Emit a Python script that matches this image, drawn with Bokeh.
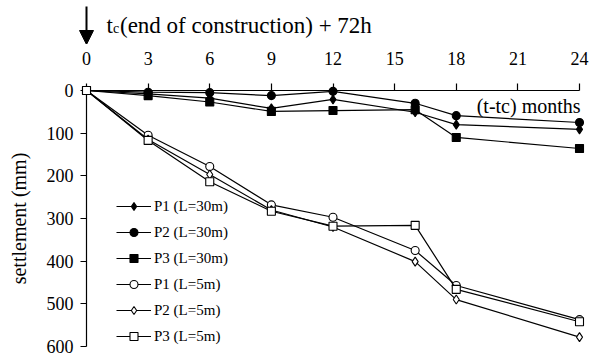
from bokeh.plotting import figure
from bokeh.layouts import column
from bokeh.core.properties import value
from bokeh.models import (Range1d, FixedTicker, Arrow,
                          NormalHead, Legend, LegendItem)
from bokeh.embed import file_html
from bokeh.resources import INLINE

# ---- data ----
months = [0, 3, 6, 9, 12, 16, 18, 24]
p1_30 = [0, 8, 18, 42, 21, 51, 80, 91]
p2_30 = [0, 4, 5, 12, 2, 30, 59, 75]
p3_30 = [0, 12, 27, 49, 47, 45, 110, 136]
p1_5 = [0, 105, 178, 268, 297, 375, 457, 537]
p2_5 = [0, 115, 197, 280, 320, 401, 490, 578]
p3_5 = [0, 117, 214, 283, 318, 316, 466, 542]
x_ticks = [0, 3, 6, 9, 12, 15, 18, 21, 24]
y_ticks = [0, 100, 200, 300, 400, 500, 600]

series = [
    ("P1 (L=30m)", p1_30, "diamond", "black"),
    ("P2 (L=30m)", p2_30, "circle", "black"),
    ("P3 (L=30m)", p3_30, "square", "black"),
    ("P1 (L=5m)", p1_5, "circle", "white"),
    ("P2 (L=5m)", p2_5, "diamond", "white"),
    ("P3 (L=5m)", p3_5, "square", "white"),
]

FONT = "Times"

# ---- header strip (arrow + title) ----
PX = 493 / 24.0  # pixels per month
TOP_H = 44
top = figure(width=598, height=TOP_H, output_backend="svg",
             toolbar_location=None,
             x_range=Range1d(-86 / PX, 512 / PX), y_range=Range1d(TOP_H, 0),
             x_axis_location=None, y_axis_location=None, min_border=0,
             frame_align=False)
top.outline_line_color = None
top.grid.visible = False
top.text(x=[20 / PX, 33.5 / PX], y=[25, 25],
         text=["t", "(end of construction) + 72h"],
         text_font=value(FONT), text_font_size="23px", text_color="black",
         text_baseline="alphabetic", text_align="left")
top.text(x=[26.5 / PX], y=[28], text=["c"],
         text_font=value(FONT), text_font_size="14px", text_color="black",
         text_baseline="alphabetic", text_align="left")
top.add_layout(Arrow(x_start=0, y_start=6, x_end=0, y_end=TOP_H,
                     line_color="black", line_width=2,
                     end=NormalHead(size=14, fill_color="black",
                                    line_color="black")))

# ---- main chart ----
p = figure(width=598, height=361 - TOP_H, output_backend="svg",
           toolbar_location=None,
           x_range=Range1d(0, 24), y_range=Range1d(600, 0),
           x_axis_location="above", y_axis_location="left",
           min_border_left=86, min_border_right=19,
           min_border_top=90 - TOP_H, min_border_bottom=15, frame_align=False)
p.outline_line_color = None
p.grid.visible = False
p.background_fill_color = "white"

p.xaxis.ticker = FixedTicker(ticks=x_ticks)
p.yaxis.ticker = FixedTicker(ticks=y_ticks)
for ax in (p.xaxis[0], p.yaxis[0]):
    ax.axis_line_color = "black"
    ax.axis_line_width = 1.2
    ax.major_tick_line_color = "black"
    ax.major_tick_line_width = 1.2
    ax.major_tick_in = 0
    ax.minor_tick_line_color = None
    ax.major_label_text_color = "black"
    ax.major_label_text_font = FONT
    ax.major_label_text_font_size = "18px"
p.xaxis.major_tick_out = 7
p.xaxis.major_label_standoff = 19
p.yaxis.major_tick_out = 6
p.yaxis.major_label_standoff = 7
p.yaxis.axis_label = "settlement (mm)"
p.yaxis.axis_label_text_font = FONT
p.yaxis.axis_label_text_font_size = "20px"
p.yaxis.axis_label_text_font_style = "normal"
p.yaxis.axis_label_text_color = "black"
p.yaxis.axis_label_standoff = 14

items = []
for name, vals, marker, fill in series:
    lr = p.line(months, vals, line_color="black", line_width=1.2,
                level="overlay")
    size = 9 if marker == "diamond" else 8
    sr = p.scatter(months, vals, marker=marker, size=size, fill_color=fill,
                   line_color="black", line_width=1.1, level="overlay")
    items.append(LegendItem(label=name, renderers=[lr, sr]))

legend = Legend(items=items, location=(30, 0), padding=0, margin=0,
                spacing=6, glyph_width=35, glyph_height=20, label_height=20,
                label_standoff=3, background_fill_alpha=0,
                border_line_color=None, label_text_font=FONT,
                label_text_font_size="15px", label_text_color="black")
p.add_layout(legend)

p.text(x=[24.05], y=[35.2], text=["(t-tc) months"], text_font=value(FONT),
       text_font_size="20px", text_color="black",
       text_baseline="alphabetic", text_align="right", level="overlay")

layout = column(top, p, spacing=0)
open("out.html", "w").write(file_html(layout, INLINE))
